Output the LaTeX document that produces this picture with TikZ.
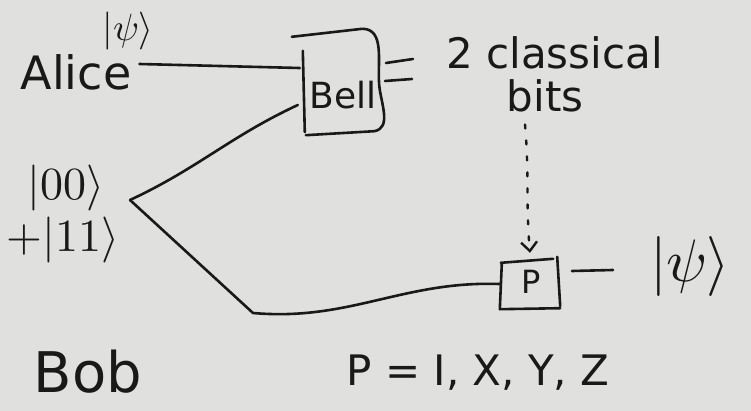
\documentclass[tikz,border=0pt]{standalone}
\usepackage{fontspec}
\usepackage{unicode-math}
\setmainfont{DejaVu Sans}
\setmathfont{Latin Modern Math}
\usetikzlibrary{calc,arrows.meta}
\definecolor{board}{RGB}{224,224,222}
\definecolor{inkc}{RGB}{25,25,25}
\tikzset{
  ink/.style={draw=inkc, line width=2.6pt, line cap=round, line join=round},
  hw/.style={text=inkc, inner sep=0pt, font=\fontsize{#1}{#1}\selectfont},
  hw/.default=40,
}
\begin{document}
\begin{tikzpicture}[x=1pt,y=-1pt]
\fill[board] (0,0) rectangle (751,411);
\useasboundingbox (0,0) rectangle (751,411);

% labels
\node[hw=46] (alice) at (76,72) {Alice};
\node[hw=38] (psiA) at (128,31) {$|\psi\rangle$};
\node[hw=46] (k00) at (66,188) {$|00\rangle$};
\node[hw=46] (k11) at (63,240) {$+|11\rangle$};
\node[hw=56] (bob) at (88,372) {Bob};

% Bell measurement box
\node[minimum width=76pt, minimum height=100pt, inner sep=0pt] (bell) at (342,85) {};
\node[hw=36] (belltxt) at (343,95) {Bell};
\draw[ink] ($(bell.north west)+(-12,2)$) -- ($(bell.north east)+(-18,-6)$)
  to[out=0,in=95] ($(bell.east)+(-1,0)$)
  to[out=-85,in=10] ($(bell.south east)+(-6,-4)$) -- ($(bell.south west)+(2,0)$);
\draw[ink] ($(bell.north west)+(-1,16)$) -- ($(bell.south west)+(1,-3)$);

% classical output
\coordinate (c1a) at (386,63); \coordinate (c1b) at (413,59);
\coordinate (c2a) at (385,81); \coordinate (c2b) at (412,79);
\draw[ink] (c1a) -- (c1b);
\draw[ink] (c2a) -- (c2b);
\node[hw=42, anchor=west] (cl) at (446,53) {2 classical};
\node[hw=42] (bits) at (545,96) {bits};

% Pauli correction box
\node[minimum width=58pt, minimum height=50pt, inner sep=0pt] (P) at (531,284) {};
\node[hw=32] (Ptxt) at (531,282) {P};
\draw[ink] ($(P.north west)+(0,5)$) -- ($(P.south west)+(-2,0)$) -- ($(P.south east)+(0,-1)$);
\draw[ink] ($(P.north west)+(-1,4)$) -- ($(P.north east)+(-7,0)$);
\draw[ink] ($(P.north east)+(-3,-2)$) -- ($(P.south east)+(0,-3)$);

% dotted classical control
\draw[ink, line width=2.4pt, dash pattern=on 4pt off 12pt, -{Straight Barb[length=9pt,width=16pt]}]
  ($(bits.south)+(-20,12)$) to[out=-85,in=95] ($(P.north)+(-1,-6)$);

% output state
\coordinate (outa) at (572,271);
\coordinate (outb) at (613,270);
\draw[ink] (outa) -- (outb);
\node[hw=60] (psiB) at (690,266) {$|\psi\rangle$};

% wires
\draw[ink] (alice.east) ++(8,-8) coordinate (aw) -- ($(bell.west)+(-4,-17)$);
\coordinate (ent) at (130,200);
\draw[ink] ($(bell.west)+(-6,20)$) to[out=205,in=25] (ent);
\draw[ink] (ent) -- (253,313) to[out=-5,in=178] ($(P.west)+(-2,0)$);

% Pauli list
\node[hw=42] (plist) at (478,373) {P = I, X, Y, Z};
\end{tikzpicture}
\end{document}
